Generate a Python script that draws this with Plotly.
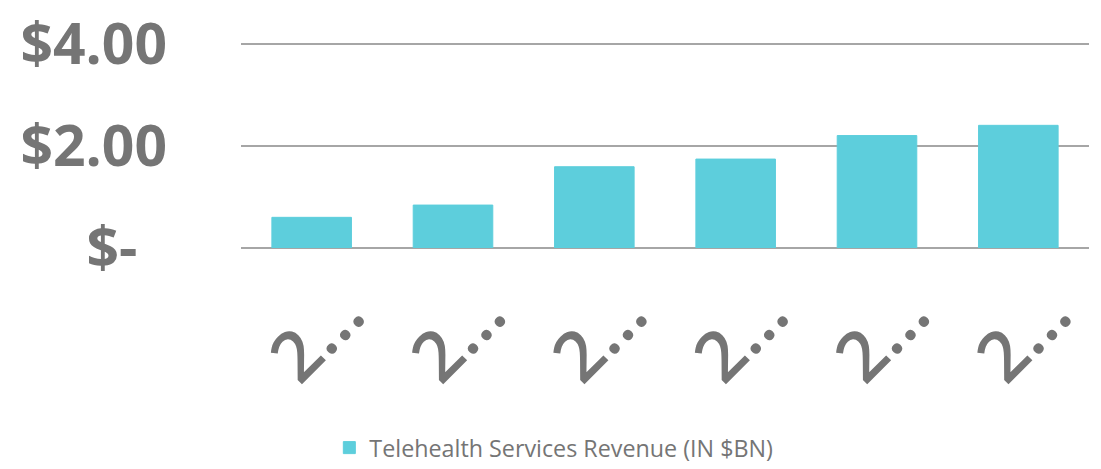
import plotly.graph_objects as go

categories = ["c1", "c2", "c3", "c4", "c5", "c6"]
x_tick_labels = ["2…", "2…", "2…", "2…", "2…", "2…"]
revenue = [0.60, 0.84, 1.59, 1.74, 2.20, 2.40]
series_name = "Telehealth Services Revenue (IN $BN)"
y_tick_values = [0, 2, 4]
y_tick_labels = ["$-\u00a0\u00a0", "$2.00", "$4.00"]

GRAY = "#757575"
BAR = "#5DCEDC"

fig = go.Figure()
fig.add_trace(go.Bar(x=categories, y=revenue, name=series_name,
                     marker=dict(color=BAR, line=dict(width=1, color=BAR)),
                     showlegend=True))

# page body has an 8px default margin, so the figure is sized to fit the window
fig.update_layout(
    width=1093, height=461,
    margin=dict(l=233, r=12, t=33, b=221, autoexpand=False),
    paper_bgcolor="white", plot_bgcolor="white",
    bargap=0.437,
    font=dict(family="Open Sans", color=GRAY),
    showlegend=True,
    legend=dict(orientation="h", xref="container", yref="container",
                x=0.294, xanchor="left", y=0.0456, yanchor="middle",
                font=dict(size=23.3, color=GRAY, family="Open Sans")),
)
fig.update_xaxes(
    type="category", tickvals=categories, ticktext=x_tick_labels,
    tickangle=-45, tickfont=dict(size=70, color=GRAY, family="Open Sans", weight=600),
    ticklabelshift=32, ticklabelstandoff=9, automargin=False,
    ticklabeloverflow="allow",
    showgrid=False, showline=False, zeroline=False, ticks="",
)
fig.update_yaxes(
    range=[0, 4.05], tickvals=y_tick_values, ticktext=y_tick_labels,
    tickfont=dict(size=57, color=GRAY, family="Open Sans", weight="bold"),
    showgrid=True, gridcolor="#A6A6A6", gridwidth=1.5,
    zeroline=True, zerolinecolor="#A6A6A6", zerolinewidth=1.5,
    showline=False, ticks="", ticklabelstandoff=73, automargin=False,
    ticklabeloverflow="allow",
)
fig.write_html("out.html")
